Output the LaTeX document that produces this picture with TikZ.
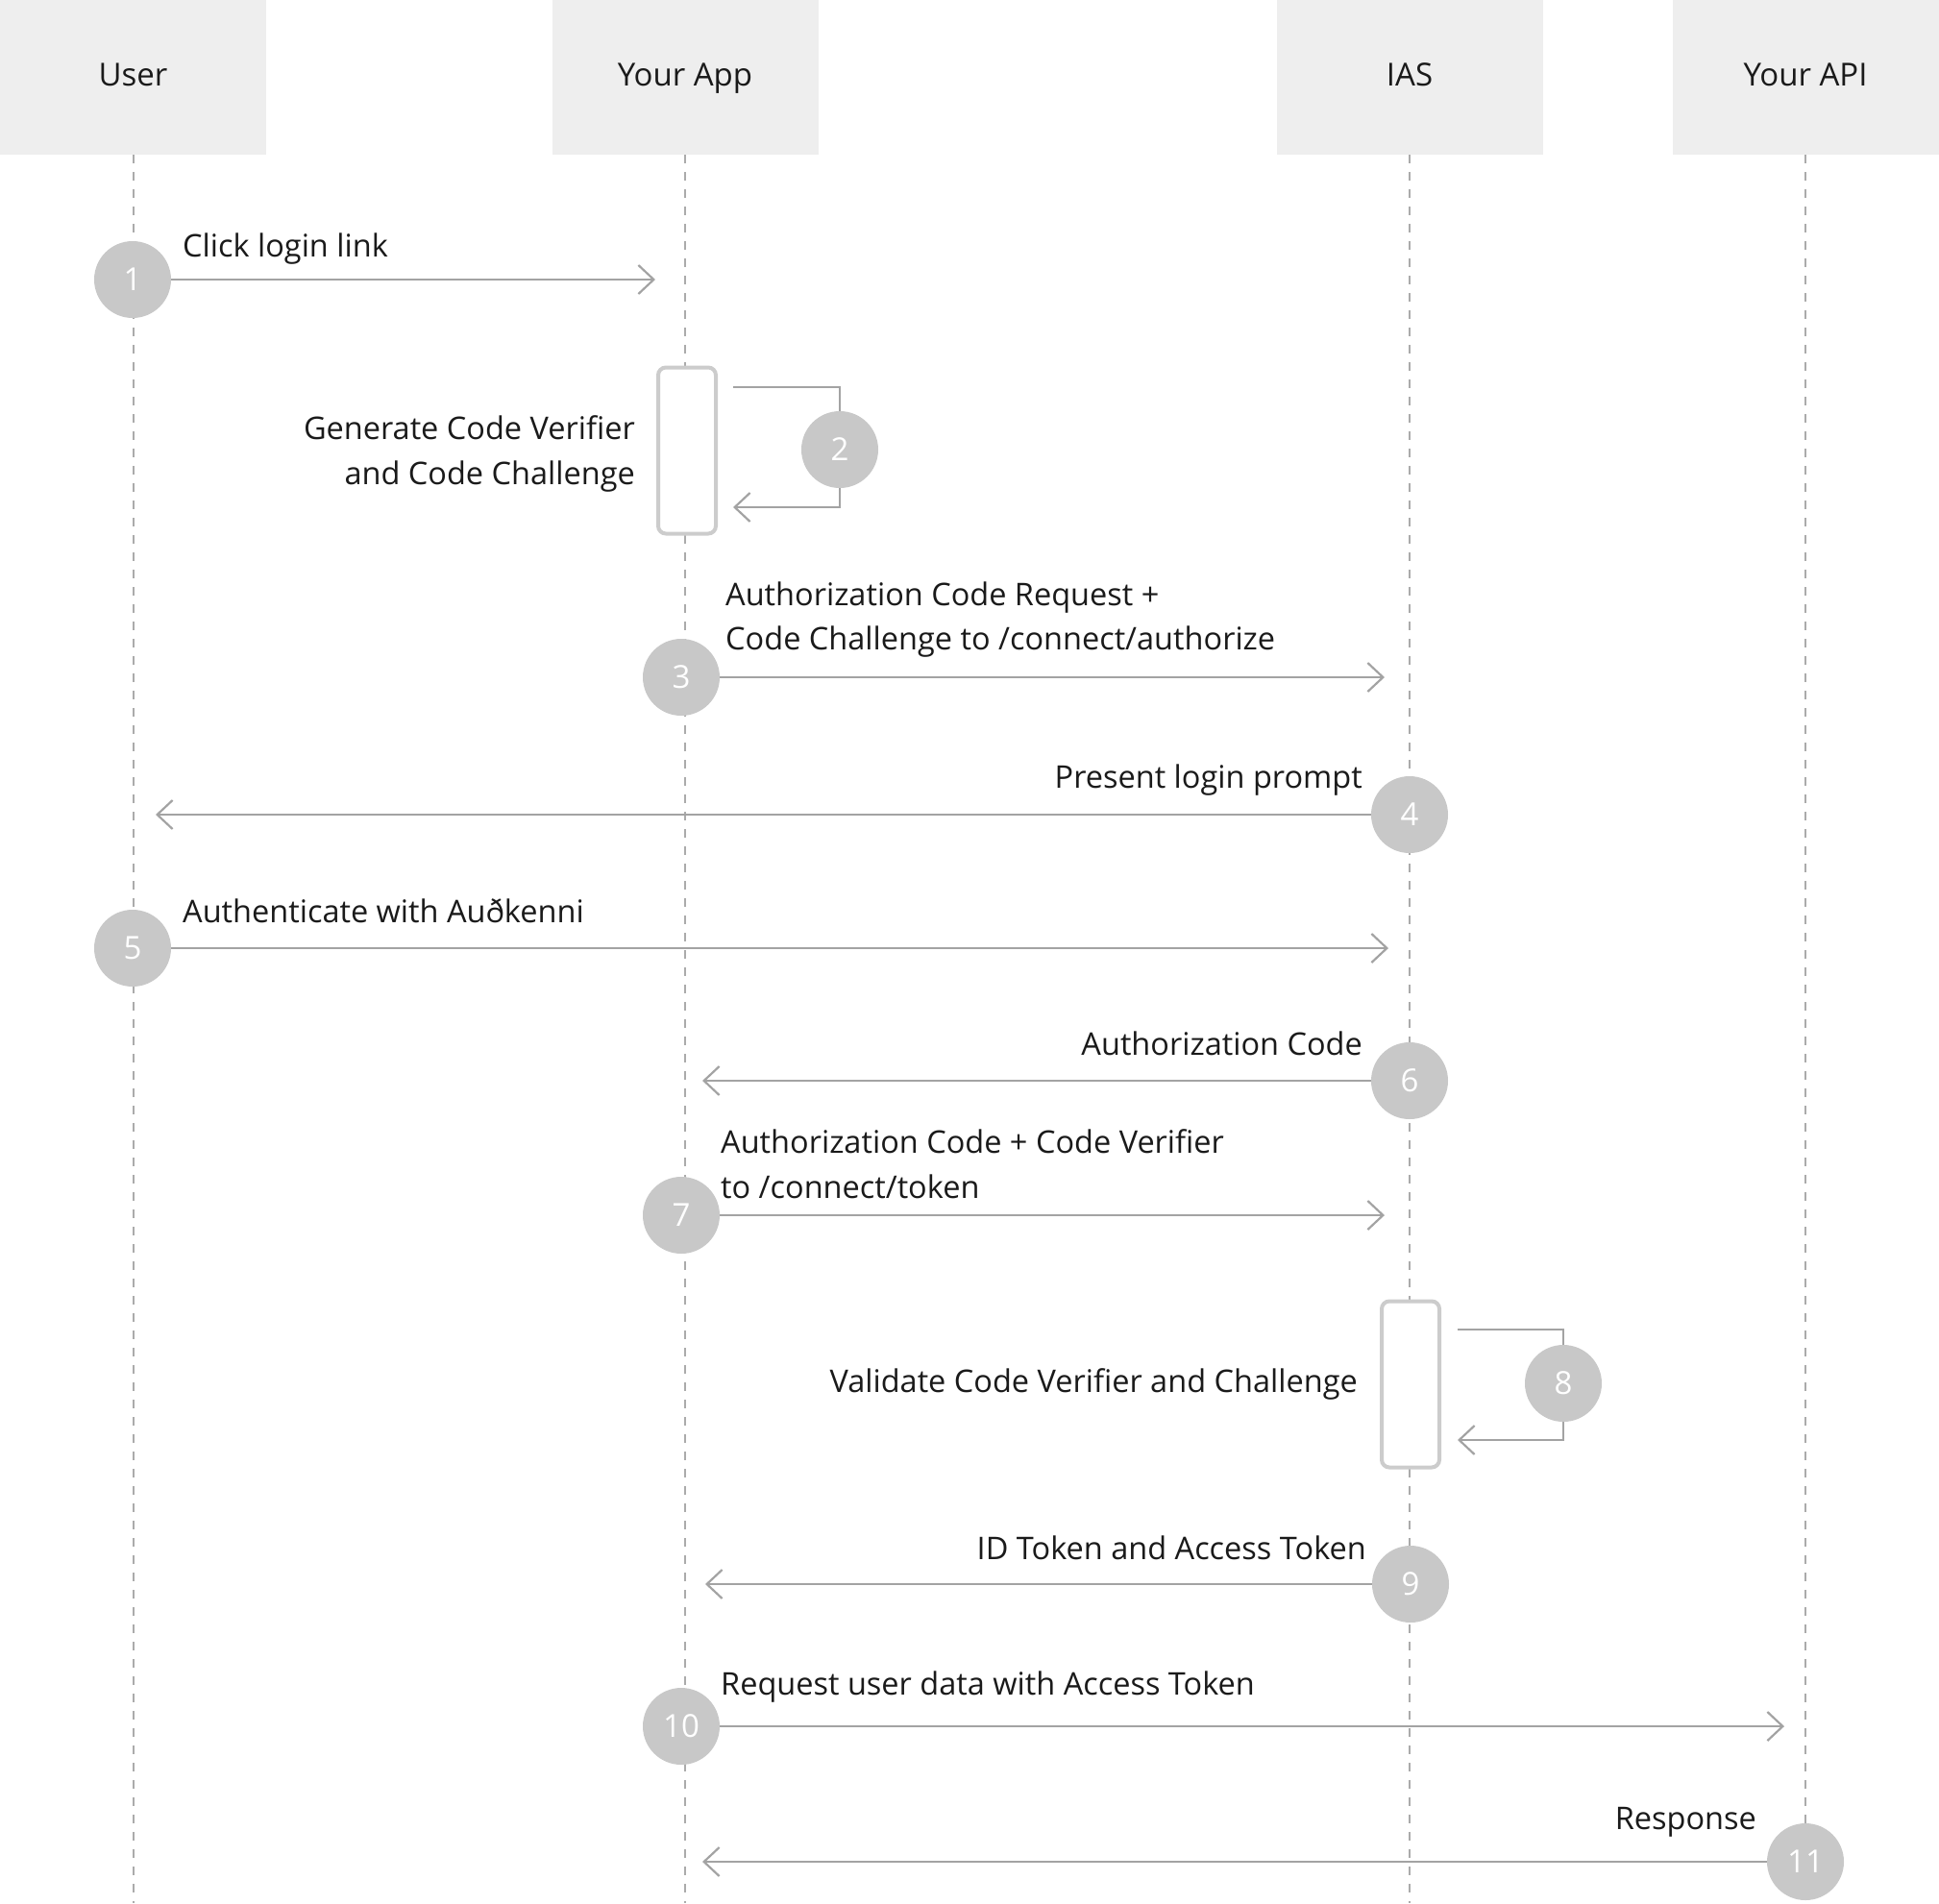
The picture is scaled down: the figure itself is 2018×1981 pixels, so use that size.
\documentclass[tikz,border=0pt]{standalone}
\usepackage{fontspec}
\setmainfont{Open Sans}
\usetikzlibrary{arrows.meta}
\definecolor{hdr}{HTML}{EEEEEE}
\definecolor{life}{HTML}{ABABAB}
\definecolor{msg}{HTML}{A3A3A3}
\definecolor{badgegray}{HTML}{C8C8C8}
\definecolor{act}{HTML}{CCCCCC}
\definecolor{ink}{HTML}{1A1A1A}
\begin{document}
\begin{tikzpicture}[x=1pt,y=-1pt,
  header/.style={fill=hdr, draw=none, minimum width=277pt, minimum height=161pt,
    inner sep=0pt, text height=25pt, text depth=7pt,
    font=\fontsize{33}{40}\selectfont, text=ink},
  lifeline/.style={draw=life, line width=2pt, dash pattern=on 9pt off 9pt},
  badge/.style={circle, fill=badgegray, minimum size=80pt, inner sep=0pt,
    text=white, font=\fontsize{33}{40}\selectfont},
  msgline/.style={draw=msg, line width=2.2pt},
  msgarrow/.style={msgline, -{Straight Barb[length=16pt,width=30pt]}},
  msglabel/.style={inner sep=0pt, text=ink, font=\fontsize{32.5}{40}\selectfont},
  actbox/.style={draw=act, fill=white, line width=4pt, rounded corners=8pt,
    minimum width=60pt, minimum height=173pt, inner sep=0pt},
]
\useasboundingbox (0,0) rectangle (2018,1981);

% participants
\node[header] (hUser) at (138.5,80.5) {User};
\node[header] (hApp)  at (713,80.5)   {Your App};
\node[header] (hIAS)  at (1467,80.5)  {IAS};
\node[header] (hAPI)  at (1879,80.5)  {Your API};

% lifeline ends
\coordinate (eUser) at (138.5,1981);
\coordinate (eApp)  at (713,1981);
\coordinate (eIAS)  at (1467,1981);
\coordinate (eAPI)  at (1879,1900);

% lifelines, drawn first so boxes and badges cover them
\draw[lifeline] (hUser.south) -- (eUser);
\draw[lifeline] (hApp.south)  -- (eApp);
\draw[lifeline] (hIAS.south)  -- (eIAS);
\draw[lifeline] (hAPI.south)  -- (eAPI);

% activation boxes
\node[actbox] (act2) at (715,469) {};
\node[actbox] (act8) at (1468,1441) {};

% step badges
\node[badge] (c1)  at (138,291)  {1};
\node[badge] (c2)  at (874,468)  {2};
\node[badge] (c3)  at (709,705)  {3};
\node[badge] (c4)  at (1467,848) {4};
\node[badge] (c5)  at (138,987)  {5};
\node[badge] (c6)  at (1467,1125) {6};
\node[badge] (c7)  at (709,1265) {7};
\node[badge] (c8)  at (1627,1440) {8};
\node[badge] (c9)  at (1468,1649) {9};
\node[badge] (c10) at (709,1797) {10};
\node[badge] (c11) at (1879,1938) {11};

% arrow end points
\coordinate (m1)  at (682,291);
\coordinate (m3)  at (1441,705);
\coordinate (m4)  at (162,848);
\coordinate (m5)  at (1445,987);
\coordinate (m6)  at (731,1125);
\coordinate (m7)  at (1441,1265);
\coordinate (m9)  at (734,1649);
\coordinate (m10) at (1857,1797);
\coordinate (m11) at (731,1938);

% messages
\draw[msgarrow] (c1.east)  -- (m1);
\draw[msgarrow] (c3.east)  -- (m3);
\draw[msgarrow] (c4.west)  -- (m4);
\draw[msgarrow] (c5.east)  -- (m5);
\draw[msgarrow] (c6.west)  -- (m6);
\draw[msgarrow] (c7.east)  -- (m7);
\draw[msgarrow] (c9.west)  -- (m9);
\draw[msgarrow] (c10.east) -- (m10);
\draw[msgarrow] (c11.west) -- (m11);

% self calls
\coordinate (s2a) at (763,403);
\coordinate (s2b) at (763,528);
\draw[msgline] (s2a) -| (c2.north);
\draw[msgarrow] (c2.south) |- (s2b);
\coordinate (s8a) at (1517,1384);
\coordinate (s8b) at (1517,1499);
\draw[msgline] (s8a) -| (c8.north);
\draw[msgarrow] (c8.south) |- (s8b);

% labels
\node[msglabel, anchor=base west] (t1) at (190,267) {Click login link};
\node[msglabel, anchor=base east] (t2a) at (661,457) {Generate Code Verifier};
\node[msglabel, anchor=base east] (t2b) at (661,504) {and Code Challenge};
\node[msglabel, anchor=base west] (t3a) at (755,630) {Authorization Code Request +};
\node[msglabel, anchor=base west] (t3b) at (755,676) {Code Challenge to /connect/authorize};
\node[msglabel, anchor=base east] (t4) at (1418,820) {Present login prompt};
\node[msglabel, anchor=base west] (t5) at (190,960) {Authenticate with Auðkenni};
\node[msglabel, anchor=base east] (t6) at (1418,1098) {Authorization Code};
\node[msglabel, anchor=base west] (t7a) at (750,1200) {Authorization Code + Code Verifier};
\node[msglabel, anchor=base west] (t7b) at (750,1247) {to /connect/token};
\node[msglabel, anchor=base east] (t8) at (1413,1449) {Validate Code Verifier and Challenge};
\node[msglabel, anchor=base east] (t9) at (1422,1623) {ID Token and Access Token};
\node[msglabel, anchor=base west] (t10) at (750,1764) {Request user data with Access Token};
\node[msglabel, anchor=base east] (t11) at (1828,1904) {Response};
\end{tikzpicture}
\end{document}
